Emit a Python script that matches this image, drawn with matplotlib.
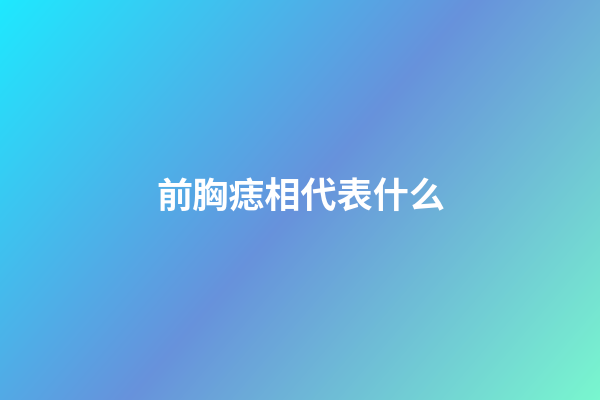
import numpy as np
import matplotlib
matplotlib.use("Agg")
import matplotlib.pyplot as plt
from matplotlib.colors import LinearSegmentedColormap

plt.rcParams['font.family'] = ['Noto Sans CJK SC', 'DejaVu Sans']

# gradient stops (top-left -> middle band -> bottom-right)
stop_colors = ["#1ee9ff", "#6792dc", "#79f7cf"]
stop_positions = [0.0, 0.5, 1.0]
title_text = "前胸痣相代表什么"

W, H = 600, 400
# direction of the gradient, in pixels (x right, y down)
gx, gy = 400.0, 344.0

xx, yy = np.meshgrid(np.arange(W) + 0.5, np.arange(H) + 0.5)
t = (xx * gx + yy * gy) / (W * gx + H * gy)

cmap = LinearSegmentedColormap.from_list("bg", list(zip(stop_positions, stop_colors)))

fig = plt.figure(figsize=(6, 4), dpi=100)
ax = fig.add_axes([0, 0, 1, 1])
ax.imshow(t, cmap=cmap, vmin=0, vmax=1, extent=[0, W, H, 0], aspect="auto",
          interpolation="bilinear")
ax.set_xlim(0, W)
ax.set_ylim(H, 0)
ax.axis("off")

ax.text(301, 198, title_text, color="white", fontsize=26, fontweight="bold",
        ha="center", va="center")

fig.savefig("out.png", dpi=100)
